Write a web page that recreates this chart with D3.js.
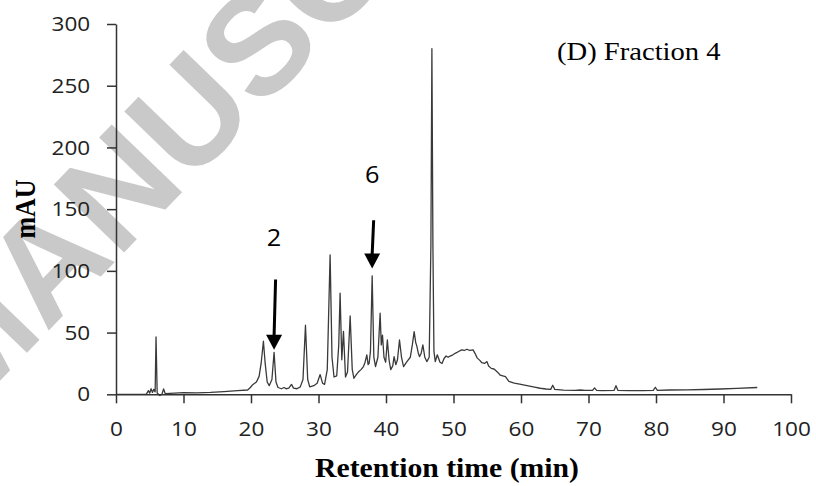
<!DOCTYPE html>
<html>
<head>
<meta charset="utf-8">
<script src="https://cdn.jsdelivr.net/npm/d3@7"></script>
<style>
  html, body { margin: 0; padding: 0; background: #fff; }
  svg { display: block; }
</style>
</head>
<body>
<svg id="chart" width="816" height="486"></svg>
<script>
// ---------------- DATA ----------------
const retentionTime = [
  0, 4.5, 4.8, 5.0, 5.2, 5.4, 5.6, 5.8, 5.93, 6.1, 6.5, 6.8, 7.05, 7.3, 8, 10, 12, 14, 16, 18,
  19.5, 19.9, 20.2, 20.8, 21.2, 21.5, 21.84, 22.1, 22.4, 22.7, 23.1, 23.42, 23.7, 24.0, 24.5, 24.9,
  25.2, 25.6, 26.0, 26.3, 26.8, 27.3, 27.7, 28.07, 28.4, 28.7, 29.3, 29.8, 30.24, 30.6, 30.9, 31.3,
  31.72, 32.0, 32.3, 32.7, 33.0, 33.2, 33.45, 33.7, 34.0, 34.3, 34.69, 35.0, 35.25, 35.6, 35.9, 36.3,
  36.66, 36.9, 37.16, 37.35, 37.5, 37.7, 37.95, 38.2, 38.45, 38.8, 39.13, 39.3, 39.48, 39.7, 39.95,
  40.2, 40.45, 40.7, 41.0, 41.2, 41.45, 41.7, 42.0, 42.3, 42.6, 43.1, 43.6, 43.9, 44.17, 44.4, 44.57,
  44.8, 44.96, 45.2, 45.46, 45.75, 46.05, 46.4, 46.65, 46.8, 46.95, 47.1, 47.3, 47.6, 48.0, 48.3,
  48.6, 48.9, 49.2, 49.5, 49.9, 50.25, 50.7, 51.2, 51.6, 52.0, 52.4, 52.9, 53.2, 53.5, 53.9, 54.2,
  54.6, 54.95, 55.2, 55.6, 56.0, 56.3, 56.6, 56.9, 57.3, 57.7, 58.2, 59.0, 59.8, 60.9, 62.0, 62.85,
  63.7, 64.4, 64.7, 65.0, 66.3, 68, 68.8, 69.5, 70.6, 70.9, 71.2, 72, 73.8, 74.07, 74.35, 76, 78,
  79.6, 79.9, 80.2, 82, 84.6, 87, 89.5, 92, 95
];
const absorbance = [
  0, 0.2, 3, 1, 4.5, 1.5, 4, 2, 46.5, 1, -1, 0, 4.3, 0.5, 0.8, 1.3, 1.2, 1.5, 2.2, 3,
  3.5, 5.5, 7.5, 10, 14.5, 25, 43, 25, 10, 7, 12, 34, 10, 5.5, 4.5, 5.5,
  4.5, 5, 8, 5, 4.5, 6, 12, 56, 12, 6, 7, 9, 16, 9, 8, 20,
  113, 30, 14, 15, 40, 82, 28, 51, 14, 18, 63.5, 20, 13, 16, 18, 20,
  22.5, 26, 32, 24, 25, 35, 96, 30, 22.5, 30, 65.7, 40, 48, 30, 26,
  44, 28, 20, 23, 30.5, 24, 28, 44, 30, 22.5, 26.5, 30, 40, 50.8, 42, 39,
  33, 30.5, 33, 40, 30, 26.5, 30, 120, 280, 120, 35, 26.5, 32, 26, 25,
  29, 31, 30, 31, 32, 33.2, 34.5, 36, 35.5, 36.5, 35.5, 36, 33, 29.5, 27.5, 25.6,
  25, 26.5, 23, 21, 20.5, 19, 17.5, 15.6, 15, 14.3, 10.5, 9, 8.2, 7, 5.8, 4.9,
  4.3, 4, 7.3, 4, 3.4, 3.2, 3.5, 3.1, 3.2, 5.2, 3.2, 3, 3.2, 7, 3.2, 3, 3,
  3.2, 5.7, 3.2, 3.5, 3.6, 3.9, 4.3, 4.8, 5.5
];
const xTicks = [0, 10, 20, 30, 40, 50, 60, 70, 80, 90, 100];
const yTicks = [0, 50, 100, 150, 200, 250, 300];

// Peak annotations (values in data units)
const annoLabels = ["2", "6"];
const annoTime = [23.42, 37.95];
const annoTip = [36, 102];
const annoTail = [93, 141];
const annoText = [120, 171];

const chartTitle = "(D) Fraction 4";
const xTitle = "Retention time (min)";
const yTitle = "mAU";
const watermark = "MANUSCRIPT";

// ---------------- LAYOUT ----------------
const svg = d3.select("#chart");
const plotLeft = 116, plotRight = 791, plotTop = 24, plotBottom = 394.3;
const x = d3.scaleLinear().domain([0, 100]).range([plotLeft, plotRight]);
const y = d3.scaleLinear().domain([0, 300]).range([plotBottom, plotTop]);
const SX = 1.1; // horizontal stretch of text as in the source picture

// watermark (behind everything)
svg.append("text")
  .attr("transform", "translate(-36,418) rotate(-46)")
  .attr("font-family", "Liberation Sans, Arial, sans-serif")
  .attr("font-weight", "bold")
  .attr("font-size", 142)
  .attr("fill", "#c9c9c9")
  .text(watermark);

// trace
const pts = retentionTime.map((t, i) => [t, absorbance[i]]);
svg.append("path")
  .datum(pts)
  .attr("fill", "none")
  .attr("stroke", "#3a3a3a")
  .attr("stroke-width", 1.3)
  .attr("stroke-linejoin", "round")
  .attr("d", d3.line().x(d => x(d[0])).y(d => y(d[1])));

// axes
const tickFont = "Open Sans, sans-serif";
const gx = svg.append("g")
  .attr("transform", `translate(0,${plotBottom})`)
  .call(d3.axisBottom(x).tickValues(xTicks).tickSize(9).tickSizeOuter(0).tickPadding(18).tickFormat(d3.format("d")));
const gy = svg.append("g")
  .attr("transform", `translate(${plotLeft},0)`)
  .call(d3.axisLeft(y).tickValues(yTicks).tickSize(9).tickSizeOuter(0).tickPadding(14.5).tickFormat(d3.format("d")));

[gx, gy].forEach(g => {
  g.select(".domain").attr("stroke", "#333").attr("stroke-width", 1.5);
  g.selectAll(".tick line").attr("stroke", "#333").attr("stroke-width", 1.5);
  g.selectAll(".tick text")
    .attr("font-family", tickFont)
    .attr("font-size", 20.5)
    .attr("fill", "#222")
    .attr("transform", `scale(${SX},1)`);
});

// titles
svg.append("text")
  .attr("transform", `translate(557,60) scale(${SX},1)`)
  .attr("font-family", "Liberation Serif, Times New Roman, serif")
  .attr("font-size", 26)
  .attr("fill", "#000")
  .text(chartTitle);

svg.append("text")
  .attr("transform", `translate(447,477) scale(${SX},1)`)
  .attr("text-anchor", "middle")
  .attr("font-family", "Liberation Serif, Times New Roman, serif")
  .attr("font-weight", "bold")
  .attr("font-size", 27)
  .attr("fill", "#000")
  .text(xTitle);

svg.append("text")
  .attr("transform", `translate(35,209) scale(${SX},1) rotate(-90)`)
  .attr("text-anchor", "middle")
  .attr("font-family", "Liberation Serif, Times New Roman, serif")
  .attr("font-weight", "bold")
  .attr("font-size", 26)
  .attr("fill", "#000")
  .text(yTitle);

// annotations
annoLabels.forEach((lab, i) => {
  const cx = x(annoTime[i]);
  const tipY = y(annoTip[i]);
  const tailY = y(annoTail[i]);
  const headH = 15, headW = 8;
  svg.append("line")
    .attr("x1", cx + 1.5).attr("y1", tailY)
    .attr("x2", cx).attr("y2", tipY - headH + 1)
    .attr("stroke", "#000").attr("stroke-width", 3);
  svg.append("path")
    .attr("d", `M${cx - headW},${tipY - headH} L${cx + headW},${tipY - headH} L${cx},${tipY} Z`)
    .attr("fill", "#000");
  svg.append("text")
    .attr("transform", `translate(${cx},${y(annoText[i])}) scale(${SX},1)`)
    .attr("text-anchor", "middle")
    .attr("font-family", tickFont)
    .attr("font-size", 23)
    .attr("fill", "#000")
    .text(lab);
});
</script>
</body>
</html>
